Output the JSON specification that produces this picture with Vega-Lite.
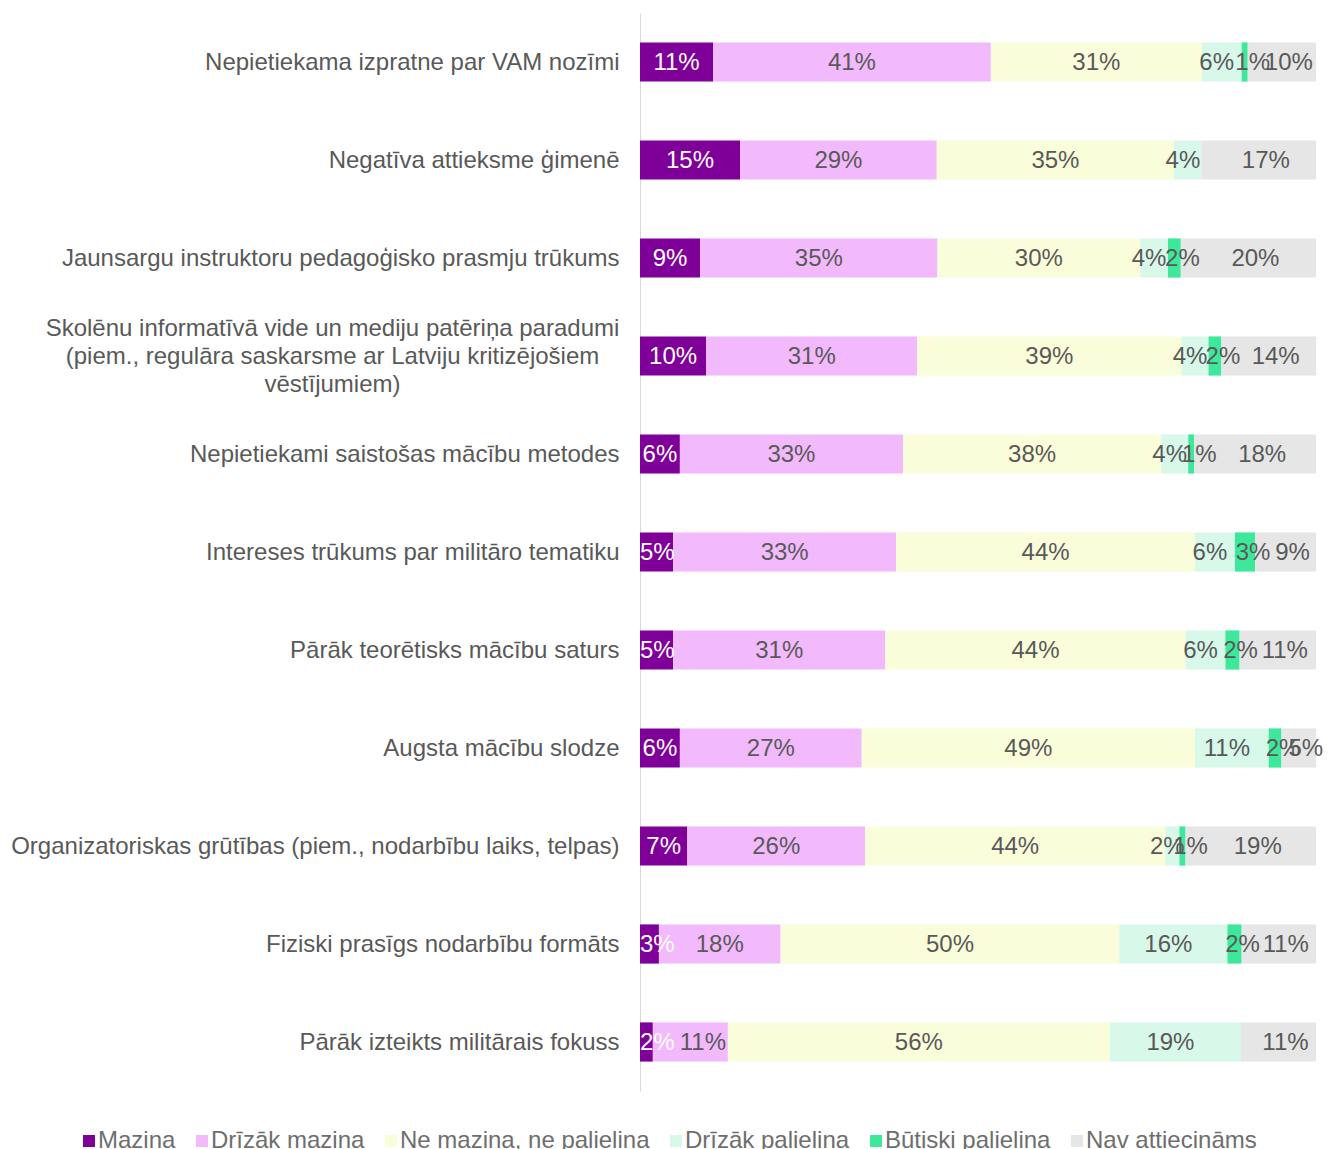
{
  "$schema": "https://vega.github.io/schema/vega-lite/v6.json",
  "autosize": {"type": "none"},
  "width": 676,
  "height": 1078,
  "padding": {"left": 640, "top": 13, "right": 13, "bottom": 58},
  "background": "white",
  "config": {
    "view": {"stroke": null},
    "font": "Liberation Sans"
  },
  "data": {
    "values": [
      {"q": "Nepietiekama izpratne par VAM nozīmi", "s": "Mazina", "k": 1, "v": 0.108},
      {"q": "Nepietiekama izpratne par VAM nozīmi", "s": "Drīzāk mazina", "k": 2, "v": 0.411},
      {"q": "Nepietiekama izpratne par VAM nozīmi", "s": "Ne mazina, ne palielina", "k": 3, "v": 0.312},
      {"q": "Nepietiekama izpratne par VAM nozīmi", "s": "Drīzāk palielina", "k": 4, "v": 0.059},
      {"q": "Nepietiekama izpratne par VAM nozīmi", "s": "Būtiski palielina", "k": 5, "v": 0.009},
      {"q": "Nepietiekama izpratne par VAM nozīmi", "s": "Nav attiecināms", "k": 6, "v": 0.101},

      {"q": "Negatīva attieksme ģimenē", "s": "Mazina", "k": 1, "v": 0.148},
      {"q": "Negatīva attieksme ģimenē", "s": "Drīzāk mazina", "k": 2, "v": 0.291},
      {"q": "Negatīva attieksme ģimenē", "s": "Ne mazina, ne palielina", "k": 3, "v": 0.351},
      {"q": "Negatīva attieksme ģimenē", "s": "Drīzāk palielina", "k": 4, "v": 0.041},
      {"q": "Negatīva attieksme ģimenē", "s": "Būtiski palielina", "k": 5, "v": 0.0},
      {"q": "Negatīva attieksme ģimenē", "s": "Nav attiecināms", "k": 6, "v": 0.169},

      {"q": "Jaunsargu instruktoru pedagoģisko prasmju trūkums", "s": "Mazina", "k": 1, "v": 0.089},
      {"q": "Jaunsargu instruktoru pedagoģisko prasmju trūkums", "s": "Drīzāk mazina", "k": 2, "v": 0.351},
      {"q": "Jaunsargu instruktoru pedagoģisko prasmju trūkums", "s": "Ne mazina, ne palielina", "k": 3, "v": 0.300},
      {"q": "Jaunsargu instruktoru pedagoģisko prasmju trūkums", "s": "Drīzāk palielina", "k": 4, "v": 0.041},
      {"q": "Jaunsargu instruktoru pedagoģisko prasmju trūkums", "s": "Būtiski palielina", "k": 5, "v": 0.019},
      {"q": "Jaunsargu instruktoru pedagoģisko prasmju trūkums", "s": "Nav attiecināms", "k": 6, "v": 0.200},

      {"q": "Skolēnu informatīvā vide un mediju patēriņa paradumi|(piem., regulāra saskarsme ar Latviju kritizējošiem|vēstījumiem)", "s": "Mazina", "k": 1, "v": 0.098},
      {"q": "Skolēnu informatīvā vide un mediju patēriņa paradumi|(piem., regulāra saskarsme ar Latviju kritizējošiem|vēstījumiem)", "s": "Drīzāk mazina", "k": 2, "v": 0.312},
      {"q": "Skolēnu informatīvā vide un mediju patēriņa paradumi|(piem., regulāra saskarsme ar Latviju kritizējošiem|vēstījumiem)", "s": "Ne mazina, ne palielina", "k": 3, "v": 0.391},
      {"q": "Skolēnu informatīvā vide un mediju patēriņa paradumi|(piem., regulāra saskarsme ar Latviju kritizējošiem|vēstījumiem)", "s": "Drīzāk palielina", "k": 4, "v": 0.040},
      {"q": "Skolēnu informatīvā vide un mediju patēriņa paradumi|(piem., regulāra saskarsme ar Latviju kritizējošiem|vēstījumiem)", "s": "Būtiski palielina", "k": 5, "v": 0.019},
      {"q": "Skolēnu informatīvā vide un mediju patēriņa paradumi|(piem., regulāra saskarsme ar Latviju kritizējošiem|vēstījumiem)", "s": "Nav attiecināms", "k": 6, "v": 0.140},

      {"q": "Nepietiekami saistošas mācību metodes", "s": "Mazina", "k": 1, "v": 0.059},
      {"q": "Nepietiekami saistošas mācību metodes", "s": "Drīzāk mazina", "k": 2, "v": 0.330},
      {"q": "Nepietiekami saistošas mācību metodes", "s": "Ne mazina, ne palielina", "k": 3, "v": 0.382},
      {"q": "Nepietiekami saistošas mācību metodes", "s": "Drīzāk palielina", "k": 4, "v": 0.040},
      {"q": "Nepietiekami saistošas mācību metodes", "s": "Būtiski palielina", "k": 5, "v": 0.009},
      {"q": "Nepietiekami saistošas mācību metodes", "s": "Nav attiecināms", "k": 6, "v": 0.180},

      {"q": "Intereses trūkums par militāro tematiku", "s": "Mazina", "k": 1, "v": 0.049},
      {"q": "Intereses trūkums par militāro tematiku", "s": "Drīzāk mazina", "k": 2, "v": 0.330},
      {"q": "Intereses trūkums par militāro tematiku", "s": "Ne mazina, ne palielina", "k": 3, "v": 0.442},
      {"q": "Intereses trūkums par militāro tematiku", "s": "Drīzāk palielina", "k": 4, "v": 0.059},
      {"q": "Intereses trūkums par militāro tematiku", "s": "Būtiski palielina", "k": 5, "v": 0.030},
      {"q": "Intereses trūkums par militāro tematiku", "s": "Nav attiecināms", "k": 6, "v": 0.090},

      {"q": "Pārāk teorētisks mācību saturs", "s": "Mazina", "k": 1, "v": 0.049},
      {"q": "Pārāk teorētisks mācību saturs", "s": "Drīzāk mazina", "k": 2, "v": 0.314},
      {"q": "Pārāk teorētisks mācību saturs", "s": "Ne mazina, ne palielina", "k": 3, "v": 0.444},
      {"q": "Pārāk teorētisks mācību saturs", "s": "Drīzāk palielina", "k": 4, "v": 0.059},
      {"q": "Pārāk teorētisks mācību saturs", "s": "Būtiski palielina", "k": 5, "v": 0.021},
      {"q": "Pārāk teorētisks mācību saturs", "s": "Nav attiecināms", "k": 6, "v": 0.113},

      {"q": "Augsta mācību slodze", "s": "Mazina", "k": 1, "v": 0.059},
      {"q": "Augsta mācību slodze", "s": "Drīzāk mazina", "k": 2, "v": 0.269},
      {"q": "Augsta mācību slodze", "s": "Ne mazina, ne palielina", "k": 3, "v": 0.493},
      {"q": "Augsta mācību slodze", "s": "Drīzāk palielina", "k": 4, "v": 0.109},
      {"q": "Augsta mācību slodze", "s": "Būtiski palielina", "k": 5, "v": 0.019},
      {"q": "Augsta mācību slodze", "s": "Nav attiecināms", "k": 6, "v": 0.051},

      {"q": "Organizatoriskas grūtības (piem., nodarbību laiks, telpas)", "s": "Mazina", "k": 1, "v": 0.070},
      {"q": "Organizatoriskas grūtības (piem., nodarbību laiks, telpas)", "s": "Drīzāk mazina", "k": 2, "v": 0.263},
      {"q": "Organizatoriskas grūtības (piem., nodarbību laiks, telpas)", "s": "Ne mazina, ne palielina", "k": 3, "v": 0.444},
      {"q": "Organizatoriskas grūtības (piem., nodarbību laiks, telpas)", "s": "Drīzāk palielina", "k": 4, "v": 0.021},
      {"q": "Organizatoriskas grūtības (piem., nodarbību laiks, telpas)", "s": "Būtiski palielina", "k": 5, "v": 0.009},
      {"q": "Organizatoriskas grūtības (piem., nodarbību laiks, telpas)", "s": "Nav attiecināms", "k": 6, "v": 0.193},

      {"q": "Fiziski prasīgs nodarbību formāts", "s": "Mazina", "k": 1, "v": 0.028},
      {"q": "Fiziski prasīgs nodarbību formāts", "s": "Drīzāk mazina", "k": 2, "v": 0.180},
      {"q": "Fiziski prasīgs nodarbību formāts", "s": "Ne mazina, ne palielina", "k": 3, "v": 0.501},
      {"q": "Fiziski prasīgs nodarbību formāts", "s": "Drīzāk palielina", "k": 4, "v": 0.160},
      {"q": "Fiziski prasīgs nodarbību formāts", "s": "Būtiski palielina", "k": 5, "v": 0.021},
      {"q": "Fiziski prasīgs nodarbību formāts", "s": "Nav attiecināms", "k": 6, "v": 0.110},

      {"q": "Pārāk izteikts militārais fokuss", "s": "Mazina", "k": 1, "v": 0.019},
      {"q": "Pārāk izteikts militārais fokuss", "s": "Drīzāk mazina", "k": 2, "v": 0.111},
      {"q": "Pārāk izteikts militārais fokuss", "s": "Ne mazina, ne palielina", "k": 3, "v": 0.565},
      {"q": "Pārāk izteikts militārais fokuss", "s": "Drīzāk palielina", "k": 4, "v": 0.194},
      {"q": "Pārāk izteikts militārais fokuss", "s": "Būtiski palielina", "k": 5, "v": 0.0},
      {"q": "Pārāk izteikts militārais fokuss", "s": "Nav attiecināms", "k": 6, "v": 0.111}
    ]
  },
  "transform": [
    {"stack": "v", "groupby": ["q"], "sort": [{"field": "k", "order": "ascending"}], "as": ["v0", "v1"]},
    {"calculate": "datum.k == 1 ? max((datum.v0 + datum.v1) / 2, 0.0255) : datum.k == 2 ? max((datum.v0 + datum.v1) / 2, 0.093) : (datum.v0 + datum.v1) / 2", "as": "mid"}
  ],
  "encoding": {
    "y": {
      "field": "q",
      "type": "nominal",
      "sort": [
        "Nepietiekama izpratne par VAM nozīmi",
        "Negatīva attieksme ģimenē",
        "Jaunsargu instruktoru pedagoģisko prasmju trūkums",
        "Skolēnu informatīvā vide un mediju patēriņa paradumi|(piem., regulāra saskarsme ar Latviju kritizējošiem|vēstījumiem)",
        "Nepietiekami saistošas mācību metodes",
        "Intereses trūkums par militāro tematiku",
        "Pārāk teorētisks mācību saturs",
        "Augsta mācību slodze",
        "Organizatoriskas grūtības (piem., nodarbību laiks, telpas)",
        "Fiziski prasīgs nodarbību formāts",
        "Pārāk izteikts militārais fokuss"
      ],
      "scale": {"paddingInner": 0.6, "paddingOuter": 0.3},
      "axis": {
        "title": null,
        "labelExpr": "split(datum.label, '|')",
        "labelFontSize": 24,
        "labelColor": "#595959",
        "labelLineHeight": 28,
        "labelAlign": {"condition": {"test": "indexof(datum.value, '|') >= 0", "value": "center"}, "value": "right"},
        "labelPadding": {"condition": {"test": "indexof(datum.value, '|') >= 0", "value": 308}, "value": 21},
        "labelOffset": {"condition": {"test": "indexof(datum.value, '|') >= 0", "value": -27}, "value": 1},
        "labelLimit": 700,
        "ticks": false,
        "domainColor": "#D9D9D9",
        "domainWidth": 1,
        "grid": false
      }
    }
  },
  "layer": [
    {
      "mark": {"type": "bar"},
      "encoding": {
        "x": {"field": "v0", "type": "quantitative", "scale": {"domain": [0, 1], "nice": false}, "axis": null},
        "x2": {"field": "v1"},
        "color": {
          "field": "s",
          "type": "nominal",
          "scale": {
            "domain": ["Mazina", "Drīzāk mazina", "Ne mazina, ne palielina", "Drīzāk palielina", "Būtiski palielina", "Nav attiecināms"],
            "range": ["#7F0099", "#F2B9FC", "#FAFDD9", "#D8F8EA", "#3DE89B", "#E6E6E6"]
          },
          "legend": {
            "title": null,
            "orient": "none",
            "direction": "horizontal",
            "legendX": -563,
            "legendY": 1116,
            "symbolType": "square",
            "symbolSize": 144,
            "symbolStrokeWidth": 0,
            "symbolOpacity": 1,
            "labelFontSize": 24,
            "labelColor": "#6E6E6E",
            "labelOffset": -3,
            "columnPadding": 14,
            "labelLimit": 400
          }
        }
      }
    },
    {
      "transform": [{"filter": "datum.v > 0 && datum.k <= 3"}],
      "mark": {"type": "text", "fontSize": 24, "baseline": "middle", "align": "center", "dy": 1},
      "encoding": {
        "x": {"field": "mid", "type": "quantitative"},
        "text": {"field": "v", "type": "quantitative", "format": ".0%"},
        "color": {
          "condition": {"test": "datum.s === 'Mazina'", "value": "#FFFFFF"},
          "value": "#595959"
        }
      }
    },
    {
      "transform": [{"filter": "datum.v > 0 && datum.k == 4"}],
      "mark": {"type": "text", "fontSize": 24, "baseline": "middle", "align": "center", "dy": 1, "dx": -5, "color": "#595959"},
      "encoding": {
        "x": {"field": "mid", "type": "quantitative"},
        "text": {"field": "v", "type": "quantitative", "format": ".0%"}
      }
    },
    {
      "transform": [{"filter": "datum.v > 0 && datum.k == 5"}],
      "mark": {"type": "text", "fontSize": 24, "baseline": "middle", "align": "center", "dy": 1, "dx": 8, "color": "#595959"},
      "encoding": {
        "x": {"field": "mid", "type": "quantitative"},
        "text": {"field": "v", "type": "quantitative", "format": ".0%"}
      }
    },
    {
      "transform": [{"filter": "datum.v > 0 && datum.k == 6"}],
      "mark": {"type": "text", "fontSize": 24, "baseline": "middle", "align": "center", "dy": 1, "dx": 7, "color": "#595959"},
      "encoding": {
        "x": {"field": "mid", "type": "quantitative"},
        "text": {"field": "v", "type": "quantitative", "format": ".0%"}
      }
    }
  ]
}
